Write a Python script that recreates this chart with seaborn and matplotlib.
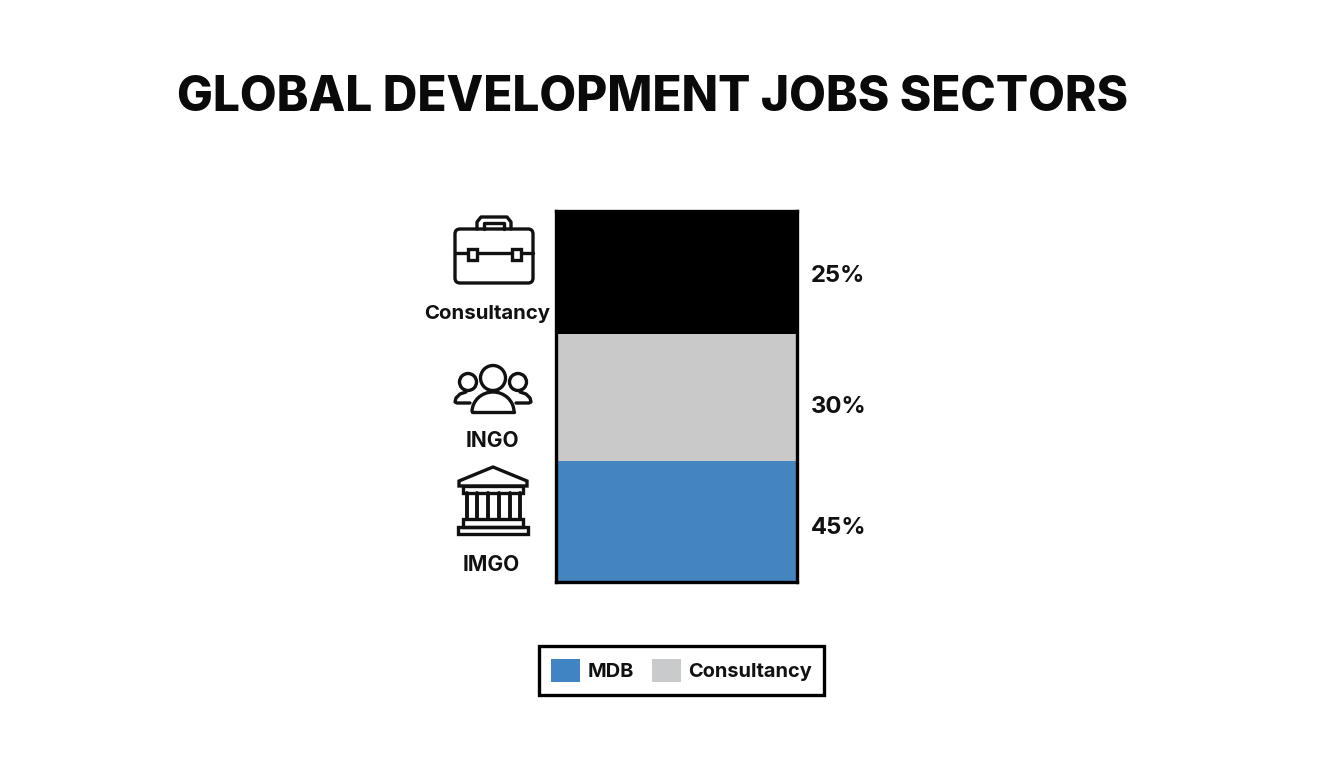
import matplotlib
matplotlib.use('Agg')
import matplotlib.pyplot as plt
from matplotlib.patches import Arc, Circle, FancyBboxPatch, Patch, Polygon, Rectangle
import seaborn as sns

sectors = ['IMGO', 'INGO', 'Consultancy']
shares = ['45%', '30%', '25%']
# drawn heights of the segments as they stand in the picture (not to scale with the shares)
heights = [121, 127, 123]
colors = ['#4484bf', '#c9c9c9', '#000000']
legend_names = ['MDB', 'Consultancy']
legend_colors = ['#4084c3', '#c9cacc']
title = 'GLOBAL DEVELOPMENT JOBS SECTORS'

W, H = 1344, 768
FONT = ['Inter', 'DejaVu Sans']
LW = 2.4
INK = '#111111'

sns.set_theme(style='white')
plt.rcParams['font.family'] = FONT

fig = plt.figure(figsize=(W / 100, H / 100), dpi=100, facecolor='white')

# stacked bar
ax = fig.add_axes([556 / W, 1 - 582 / H, 241 / W, 371 / H])
bottom = 0
for name, h, c in zip(sectors, heights, colors):
    sns.barplot(x=['stack'], y=[h], bottom=bottom, color=c, width=1, saturation=1, linewidth=0, ax=ax)
    bottom += h
ax.set_xlim(-0.5, 0.5)
ax.set_ylim(0, sum(heights))
ax.set_xticks([])
ax.set_yticks([])
ax.set_xlabel('')
ax.set_ylabel('')
for s in ax.spines.values():
    s.set_visible(True)
    s.set_color('black')
    s.set_linewidth(LW)

# overlay in pixel coordinates for the title, icons and side labels
ov = fig.add_axes([0, 0, 1, 1], zorder=5)
ov.set_xlim(0, W)
ov.set_ylim(H, 0)
ov.axis('off')
ov.patch.set_alpha(0)

ov.text(652.5, 98, title, ha='center', va='center', fontsize=34.4, fontweight=800, color='#0a0a0a')

for y, s in zip([528, 407, 276], shares):
    ov.text(811, y, s, ha='left', va='center', fontsize=17.2, fontweight='bold', color=INK)

ov.text(487.5, 314, 'Consultancy', ha='center', va='center', fontsize=14.7, fontweight='bold', color=INK)
ov.text(492, 441, 'INGO', ha='center', va='center', fontsize=15, fontweight='bold', color=INK)
ov.text(491, 565, 'IMGO', ha='center', va='center', fontsize=15, fontweight='bold', color=INK)

style = dict(fill=False, edgecolor=INK, linewidth=LW)

# briefcase
ov.add_patch(FancyBboxPatch((458, 232), 72, 48, boxstyle='round,pad=3,rounding_size=5', **style))
ov.plot([477, 477, 481, 507, 511, 511], [229, 222, 217, 217, 222, 229], color=INK, lw=LW)
ov.plot([484, 484, 504, 504], [229, 223, 223, 229], color=INK, lw=LW)
ov.plot([455, 467], [253, 253], color=INK, lw=LW)
ov.plot([478, 511], [253, 253], color=INK, lw=LW)
ov.plot([521, 533], [253, 253], color=INK, lw=LW)
ov.add_patch(Rectangle((468, 249), 9, 10.5, **style))
ov.add_patch(Rectangle((512, 249), 9, 10.5, **style))

# people
ov.add_patch(Circle((493, 378), 12.5, **style))
ov.add_patch(Circle((468, 382), 8.5, **style))
ov.add_patch(Circle((518, 382), 8.5, **style))
ov.add_patch(Arc((493, 412), 42, 40, theta1=180, theta2=360, edgecolor=INK, linewidth=LW))
ov.plot([472, 514], [412, 412], color=INK, lw=LW)
ov.plot([466, 460, 456, 455, 457, 470], [392, 394, 398, 402, 403, 403], color=INK, lw=LW)
ov.plot([520, 526, 530, 531, 529, 516], [392, 394, 398, 402, 403, 403], color=INK, lw=LW)

# temple
ov.add_patch(Polygon([(493, 467), (459, 481), (459, 486), (527, 486), (527, 481)], closed=True, **style))
ov.add_patch(Rectangle((463, 486), 60, 7, **style))
for x in [467, 477, 488, 499, 510, 520]:
    ov.plot([x, x], [493, 519], color=INK, lw=LW + 0.4)
ov.add_patch(Rectangle((463, 519), 60, 8, **style))
ov.add_patch(Rectangle((458, 527), 70, 7, **style))

# legend
handles = [Patch(facecolor=c, edgecolor='none', label=n) for n, c in zip(legend_names, legend_colors)]
leg = fig.legend(handles=handles, ncol=2, loc='center', bbox_to_anchor=(681.5 / W, 1 - 670.5 / H),
                 frameon=True, fancybox=False, edgecolor='black', framealpha=1,
                 prop={'family': FONT, 'weight': 'bold', 'size': 14.4},
                 handlelength=1.45, handleheight=1.45, handletextpad=0.35, columnspacing=0.9,
                 borderpad=0.62, borderaxespad=0, labelcolor=INK)
leg.get_frame().set_linewidth(LW)

fig.savefig('out.png', dpi=100, facecolor='white')
